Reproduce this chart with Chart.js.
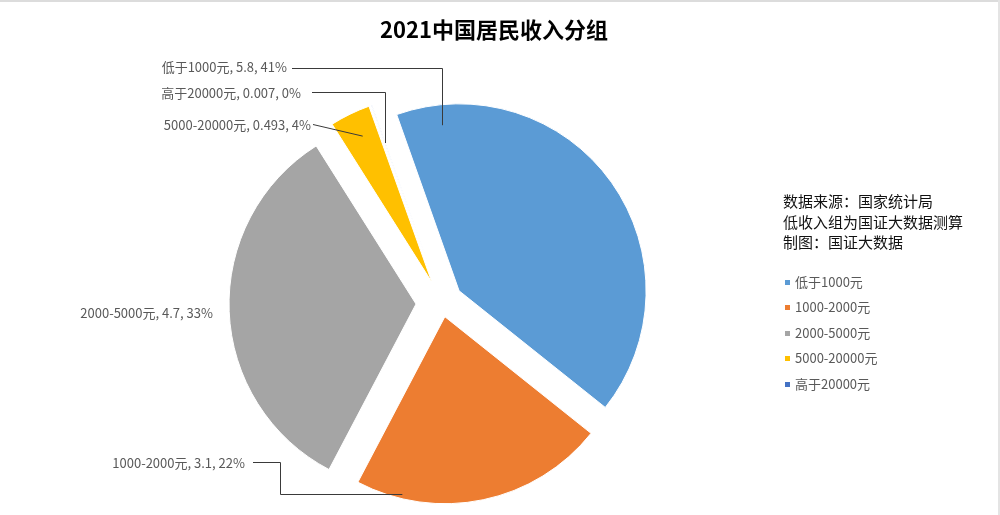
<!DOCTYPE html>
<html>
<head>
<meta charset="utf-8">
<script src="https://cdn.jsdelivr.net/npm/chart.js@4.4.1/dist/chart.umd.min.js"></script>
<style>
  html, body { margin: 0; padding: 0; background: #fff; }
  #wrap { position: relative; width: 1000px; height: 515px; overflow: hidden; background: #fff;
    font-family: "Noto Sans CJK SC", "Noto Sans", sans-serif; }
  #edge-top { position: absolute; left: 0; top: 0; width: 1000px; height: 2px; background: #dcdcdc; }
  #edge-right { position: absolute; right: 0; top: 0; width: 2px; height: 515px; background: #e4e4e4; }
  #title { position: absolute; left: 0; top: 13px; width: 988px; text-align: center;
    font-size: 22px; font-weight: bold; line-height: 30px; color: #000; }
  #note { position: absolute; left: 783px; top: 191px; font-size: 15px; line-height: 20.5px; color: #111; }
  #legend { position: absolute; left: 785px; top: 269px; margin: 0; padding: 0; list-style: none; }
  #legend li { height: 25.4px; line-height: 25.4px; font-size: 13px; color: #595959; white-space: nowrap; }
  #legend span.box { display: inline-block; width: 5px; height: 5px; margin-right: 5px; vertical-align: middle;
    position: relative; top: -1px; }
  canvas { position: absolute; left: 0; top: 0; }
</style>
</head>
<body>
<div id="wrap">
  <canvas id="chart" width="1000" height="515"></canvas>
  <div id="edge-top"></div>
  <div id="edge-right"></div>
  <div id="title"></div>
  <div id="note"></div>
  <ul id="legend"></ul>
</div>
<script>
// data
const chartTitle = "2021中国居民收入分组";
const categories = ["低于1000元", "1000-2000元", "2000-5000元", "5000-20000元", "高于20000元"];
const values = [5.8, 3.1, 4.7, 0.493, 0.007];
const percentText = ["41%", "22%", "33%", "4%", "0%"];
const noteLines = ["数据来源：国家统计局", "低收入组为国证大数据测算", "制图：国证大数据"];

// styles / layout
const colors = ["#5B9BD5", "#ED7D31", "#A5A5A5", "#FFC000", "#4472C4"];
const explode = [21, 14, 26, 23, 23];
// label text anchor (right aligned) + leader line; end point given in slice terms
const labelLayout = [
  { tx: 287, ty: 67, kind: "elbow", sx: 292, sy: 68, frac: 0.093, r: 0.89 },
  { tx: 245, ty: 463, kind: "step", sx: 253, sy: 462, ex: 280, frac: 0.82, r: 0.975 },
  { tx: 213, ty: 313, kind: "none" },
  { tx: 311, ty: 125, kind: "straight", sx: 313, sy: 124, frac: 0.55, r: 0.865 },
  { tx: 301, ty: 93, kind: "elbow", sx: 312, sy: 92, frac: 0.5, r: 0.785 },
];

document.getElementById("title").textContent = chartTitle;
document.getElementById("note").innerHTML = noteLines.map((l) => `<div>${l}</div>`).join("");
document.getElementById("legend").innerHTML = categories
  .map((c, i) => `<li><span class="box" style="background:${colors[i]}"></span>${c}</li>`)
  .join("");

const explodePie = {
  id: "explodePie",
  beforeDatasetDraw(chart, args) {
    const ctx = chart.ctx;
    args.meta.data.forEach((arc, i) => {
      const mid = (arc.startAngle + arc.endAngle) / 2;
      const d = explode[i];
      ctx.save();
      ctx.translate(Math.cos(mid) * d, Math.sin(mid) * d);
      arc.draw(ctx);
      ctx.restore();
    });
    return false;
  },
};

const pieLabels = {
  id: "pieLabels",
  afterDraw(chart) {
    const ctx = chart.ctx;
    const arcs = chart.getDatasetMeta(0).data;
    ctx.save();
    ctx.font = '13px "Noto Sans CJK SC", "Noto Sans", sans-serif';
    ctx.textAlign = "right";
    ctx.textBaseline = "middle";
    ctx.strokeStyle = "#3a3a3a";
    ctx.lineWidth = 1;
    arcs.forEach((arc, i) => {
      const L = labelLayout[i];
      ctx.fillStyle = "#595959";
      ctx.fillText(`${categories[i]}, ${values[i]}, ${percentText[i]}`, L.tx, L.ty);
      if (L.kind === "none") return;
      const mid = (arc.startAngle + arc.endAngle) / 2;
      const vx = arc.x + Math.cos(mid) * explode[i];
      const vy = arc.y + Math.sin(mid) * explode[i];
      const a = arc.startAngle + L.frac * (arc.endAngle - arc.startAngle);
      const px = vx + Math.cos(a) * arc.outerRadius * L.r;
      const py = vy + Math.sin(a) * arc.outerRadius * L.r;
      ctx.beginPath();
      ctx.moveTo(L.sx, L.sy + 0.5);
      if (L.kind === "elbow") {
        ctx.lineTo(Math.round(px) + 0.5, L.sy + 0.5);
        ctx.lineTo(Math.round(px) + 0.5, py);
      } else if (L.kind === "step") {
        ctx.lineTo(L.ex + 0.5, L.sy + 0.5);
        ctx.lineTo(L.ex + 0.5, Math.round(py) + 0.5);
        ctx.lineTo(px, Math.round(py) + 0.5);
      } else {
        ctx.lineTo(px, py);
      }
      ctx.stroke();
    });
    ctx.restore();
  },
};

new Chart(document.getElementById("chart"), {
  type: "pie",
  data: {
    labels: categories,
    datasets: [{
      data: values,
      backgroundColor: colors,
      borderColor: "#ffffff",
      borderWidth: 1,
      radius: 187,
      rotation: -19.5,
    }],
  },
  options: {
    responsive: false,
    devicePixelRatio: 1,
    animation: false,
    events: [],
    layout: { padding: { left: 0, right: 116, top: 91, bottom: 0 } },
    plugins: {
      legend: { display: false },
      title: { display: false },
      tooltip: { enabled: false },
    },
  },
  plugins: [explodePie, pieLabels],
});
</script>
</body>
</html>
